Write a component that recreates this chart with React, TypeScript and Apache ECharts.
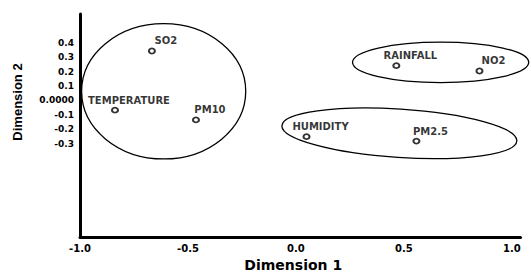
import React, { useEffect, useRef } from "react";
import * as echarts from "echarts";

const pointLabels = ["SO2", "TEMPERATURE", "PM10", "RAINFALL", "NO2", "HUMIDITY", "PM2.5"];
const dimension1 = [-0.667, -0.838, -0.463, 0.465, 0.85, 0.049, 0.558];
const dimension2 = [0.343, -0.068, -0.136, 0.241, 0.204, -0.252, -0.283];

const xTickValues = [-1.0, -0.5, 0.0, 0.5, 1.0];
const yTickValues = [-0.3, -0.2, -0.1, 0.0, 0.1, 0.2, 0.3, 0.4];

// cluster ellipses (centre, radii in data units, rotation in degrees)
const ellipseCx = [-0.6125, 0.67, 0.479];
const ellipseCy = [0.063, 0.264, -0.229];
const ellipseRx = [0.38, 0.408, 0.545];
const ellipseRy = [0.47, 0.141, 0.168];
const ellipseRot = [0, 0, -3.7];

const near = (a: number, b: number) => Math.abs(a - b) < 1e-6;

export default function App() {
  const ref = useRef<HTMLDivElement>(null);
  useEffect(() => {
    if (!ref.current) return;
    const chart = echarts.init(ref.current, null, { renderer: "svg" });
    const pointData = pointLabels.map((n, i) => ({ name: n, value: [dimension1[i], dimension2[i]] }));
    const ellipseData = ellipseCx.map((cx, i) => [cx, ellipseCy[i], ellipseRx[i], ellipseRy[i], ellipseRot[i]]);
    chart.setOption({
      animation: false,
      backgroundColor: "#ffffff",
      grid: { left: 80, top: 14, right: 10.5, bottom: 32, containLabel: false },
      xAxis: {
        type: "value",
        min: -1,
        max: 1.04,
        interval: 0.5,
        name: "Dimension 1",
        nameLocation: "middle",
        nameGap: 13,
        nameTextStyle: {
          fontFamily: "DejaVu Sans",
          fontWeight: "bold",
          fontSize: 14,
          color: "#000",
          padding: [0, 14, 0, 0],
        },
        axisLine: { show: true, onZero: false, lineStyle: { color: "#000", width: 3 } },
        axisTick: { show: false },
        splitLine: { show: false },
        axisLabel: {
          margin: 6,
          fontFamily: "DejaVu Sans",
          fontWeight: "bold",
          fontSize: 10,
          color: "#000",
          showMaxLabel: true,
          formatter: (v: number) => {
            const t = xTickValues.find((x) => near(x, v));
            return t === undefined ? "" : t.toFixed(1);
          },
        },
      },
      yAxis: {
        type: "value",
        min: -0.95,
        max: 0.6,
        interval: 0.05,
        axisLine: { show: true, onZero: false, lineStyle: { color: "#000", width: 3 } },
        axisTick: { show: false },
        splitLine: { show: false },
        axisLabel: {
          margin: 6,
          fontFamily: "DejaVu Sans",
          fontWeight: "bold",
          fontSize: 9,
          color: "#000",
          formatter: (v: number) => {
            const t = yTickValues.find((y) => near(y, v));
            if (t === undefined) return "";
            return near(t, 0) ? "0.0000" : t.toFixed(1);
          },
        },
      },
      graphic: [
        {
          type: "text",
          x: 17,
          y: 102,
          rotation: Math.PI / 2,
          style: {
            text: "Dimension 2",
            font: 'bold 13px "Liberation Sans"',
            fill: "#000",
            align: "center",
            verticalAlign: "middle",
            textAlign: "center",
            textVerticalAlign: "middle",
          },
        },
      ],
      series: [
        {
          type: "custom",
          silent: true,
          clip: false,
          encode: { x: 0, y: 1 },
          data: ellipseData,
          renderItem: (params: any, api: any) => {
            const c = api.coord([api.value(0), api.value(1)]);
            const s = api.size([api.value(2), api.value(3)], [api.value(0), api.value(1)]);
            return {
              type: "ellipse",
              x: c[0],
              y: c[1],
              rotation: (api.value(4) * Math.PI) / 180,
              shape: { cx: 0, cy: 0, rx: s[0], ry: s[1] },
              style: { fill: "none", stroke: "#000", lineWidth: 1.3 },
            };
          },
        },
        {
          type: "scatter",
          data: pointData,
          symbol: "circle",
          symbolSize: [6, 5],
          itemStyle: { color: "#ffffff", borderColor: "#000", borderWidth: 1.9 },
          label: {
            show: true,
            position: "inside",
            offset: [14, -10],
            formatter: (p: any) => p.name,
            fontFamily: "DejaVu Sans",
            fontWeight: "bold",
            fontSize: 10,
            color: "#000",
            align: "center",
            verticalAlign: "middle",
          },
        },
      ],
    });
    return () => chart.dispose();
  }, []);
  return (
    <div
      ref={ref}
      style={{ position: "fixed", left: 0, top: 0, width: 531, height: 277, background: "#fff" }}
    />
  );
}
